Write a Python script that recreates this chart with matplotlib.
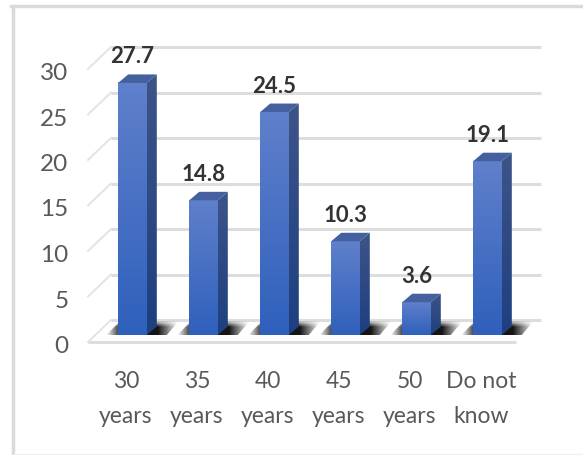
import numpy as np
import matplotlib
matplotlib.use("Agg")
import matplotlib.pyplot as plt
from matplotlib.patches import Polygon
from matplotlib.lines import Line2D
from matplotlib.colors import LinearSegmentedColormap

categories = ["30\nyears", "35\nyears", "40\nyears", "45\nyears", "50\nyears", "Do not\nknow"]
values = [27.7, 14.8, 24.5, 10.3, 3.6, 19.1]
value_labels = ["27.7", "14.8", "24.5", "10.3", "3.6", "19.1"]
y_ticks = [0, 5, 10, 15, 20, 25, 30]

W, H = 583, 455
plt.rcParams["font.family"] = ["Lato", "DejaVu Sans"]
fig = plt.figure(figsize=(W / 100, H / 100), dpi=100, facecolor="white")

# Frame: left and top strong, bottom very faint
fig.add_artist(Line2D([12.5 / W, 12.5 / W], [0, 1 - 5.5 / H], color="#DADADA", lw=2.5, transform=fig.transFigure))
fig.add_artist(Line2D([11 / W, 1], [1 - 5.5 / H, 1 - 5.5 / H], color="#DADADA", lw=2.5, transform=fig.transFigure))
fig.add_artist(Line2D([14 / W, 1], [1 - 454 / H, 1 - 454 / H], color="#F0F0F0", lw=1, transform=fig.transFigure))

# Axes: x in category index, y in value; bar floor at pixel y=335, 9.1 px per unit
px_per_x, px_per_y = 71.0, 9.1
x0_px, y0_px = 132.5, 335.0
left_px, right_px, bottom_px, top_px = 60.0, 560.0, 350.0, 30.0
ax = fig.add_axes([left_px / W, 1 - bottom_px / H, (right_px - left_px) / W, (bottom_px - top_px) / H])
ax.axis("off")

dx = lambda px: px / px_per_x
dy = lambda px: px / px_per_y
grid_c = "#DDDDDD"

back_y = dy(15)
floor_y = dy(-7)
for t in y_ticks:
    ax.plot([dx(111 - x0_px), dx(541 - x0_px)], [t + back_y, t + back_y], color=grid_c, lw=2.2, zorder=1,
            solid_capstyle="butt")
    ax.plot([dx(88 - x0_px), dx(111 - x0_px)], [t + floor_y, t + back_y], color="#E3E3E3", lw=1.4, zorder=1)
ax.plot([dx(88 - x0_px), dx(516 - x0_px)], [floor_y, floor_y], color=grid_c, lw=2.2, zorder=1,
        solid_capstyle="butt")

front = LinearSegmentedColormap.from_list("f", ["#5F80CB", "#2F60BC"])
side = LinearSegmentedColormap.from_list("s", ["#3D5488", "#1E3F80"])

# Floor shadow: soft, dark near the bar foot, fading up and to both sides
shadow = np.zeros((24, 80, 4))
xs = np.linspace(0, 1, 80)
ys = np.linspace(0, 1, 24)  # 0 = top (far), 1 = bottom (near)
shadow[..., 3] = np.clip(1.25 * np.outer(np.clip(ys * 2.2, 0, 1),
                                         np.clip(xs * 3.5, 0, 1) * np.clip((1 - xs) * 2.6, 0, 1)), 0, 0.92)

half = dx(14.3)
depth_x, depth_y = dx(10), dy(8.5)
for i, (v, lab) in enumerate(zip(values, value_labels)):
    l, r = i - half, i + half
    sx0, sx1 = l - dx(12), r + dx(32)
    im = ax.imshow(shadow, extent=[sx0, sx1, 0, dy(14)], origin="upper", aspect="auto", zorder=2,
                   interpolation="bilinear")
    im.set_clip_path(Polygon([(sx0, 0), (sx1 - dx(12), 0), (sx1, dy(14)), (sx0 + dx(14), dy(14))],
                             transform=ax.transData))
    g = np.linspace(0, 1, 64).reshape(-1, 1)
    ax.imshow(g, cmap=front, extent=[l, r, 0, v], origin="upper", aspect="auto", zorder=4)
    sp = Polygon([(r, 0), (r + depth_x, depth_y), (r + depth_x, v + depth_y), (r, v)],
                 transform=ax.transData)
    ims = ax.imshow(g, cmap=side, extent=[r, r + depth_x, 0, v + depth_y], origin="upper", aspect="auto",
                    zorder=3)
    ims.set_clip_path(sp)
    ax.add_patch(Polygon([(l, v), (r, v), (r + depth_x, v + depth_y), (l + depth_x, v + depth_y)],
                         fc="#44609F", ec="none", zorder=4))
    ax.text(i, v + dy(19.5), lab, ha="center", va="baseline", fontsize=16, fontweight="bold",
            color="#333333", zorder=6)
    top_line, bottom_line = categories[i].split("\n")
    ax.text(i - dx(6.5), dy(-53), top_line, ha="center", va="baseline", fontsize=16.5, color="#595959",
            clip_on=False)
    ax.text(i - dx(6.5), dy(-88), bottom_line, ha="center", va="baseline", fontsize=16.5, color="#595959",
            clip_on=False)

ax.set_xlim((left_px - x0_px) / px_per_x, (right_px - x0_px) / px_per_x)
ax.set_ylim((y0_px - bottom_px) / px_per_y, (y0_px - top_px) / px_per_y)

for t in y_ticks:
    ax.text(dx(68.5 - x0_px), t + floor_y + dy(-11), str(t), ha="right", va="baseline", fontsize=17.5,
            color="#595959", clip_on=False)

fig.savefig("out.png", dpi=100, facecolor="white")
